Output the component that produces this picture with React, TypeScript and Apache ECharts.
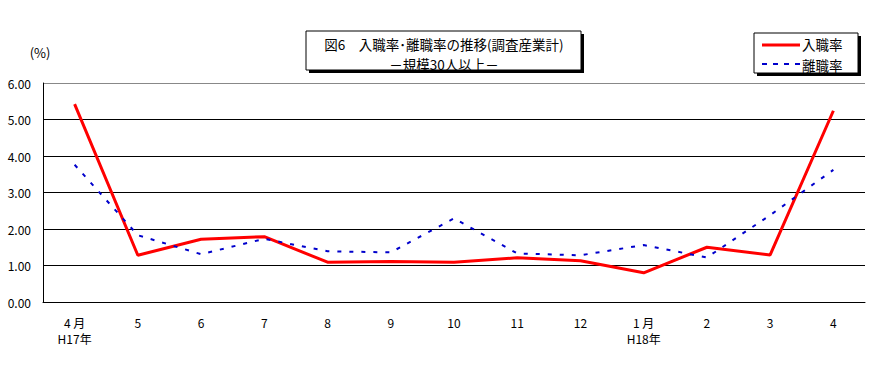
import React, { useEffect, useRef } from "react";
import * as echarts from "echarts";

const categories = ["4 月\nH17年", "5", "6", "7", "8", "9", "10", "11", "12", "1 月\nH18年", "2", "3", "4"];
const hireRate = [5.42, 1.28, 1.72, 1.79, 1.09, 1.11, 1.09, 1.21, 1.13, 0.8, 1.5, 1.29, 5.24];
const separationRate = [3.76, 1.83, 1.31, 1.73, 1.39, 1.36, 2.29, 1.33, 1.28, 1.56, 1.22, 2.38, 3.62];
const seriesNames = ["入職率", "離職率"];
const titleLine1 = "図6　入職率･離職率の推移(調査産業計)";
const titleLine2 = "－規模30人以上－";

const FONT = "'Noto Sans CJK JP', 'Noto Sans', sans-serif";
const RED = "#ff0000";
const BLUE = "#0000cc";

export default function App() {
  const ref = useRef<HTMLDivElement>(null);
  useEffect(() => {
    document.body.style.margin = "0";
    if (!ref.current) return;
    const chart = echarts.init(ref.current, null, { renderer: "svg" });
    chart.setOption({
      animation: false,
      backgroundColor: "#fff",
      textStyle: { fontFamily: FONT },
      title: {
        text: titleLine1,
        subtext: titleLine2,
        left: 444,
        top: 33.5,
        textAlign: "center",
        padding: 0,
        itemGap: 0,
        textStyle: { fontFamily: FONT, fontSize: 13.5, fontWeight: "normal", color: "#000", lineHeight: 20 },
        subtextStyle: { fontFamily: FONT, fontSize: 13.5, fontWeight: "normal", color: "#000", lineHeight: 20 },
      },
      graphic: [
        { type: "rect", shape: { x: 309, y: 34, width: 275, height: 39 }, style: { fill: "#000" }, z: -1 },
        { type: "rect", shape: { x: 306, y: 31, width: 275, height: 39 }, style: { fill: "#fff", stroke: "#000", lineWidth: 1 }, z: -1 },
        { type: "rect", shape: { x: 757, y: 36, width: 104, height: 40 }, style: { fill: "#000" }, z: -1 },
        { type: "rect", shape: { x: 754, y: 33, width: 104, height: 40 }, style: { fill: "#fff", stroke: "#000", lineWidth: 1 }, z: -1 },
        { type: "line", shape: { x1: 762, y1: 45, x2: 800, y2: 45 }, style: { stroke: RED, lineWidth: 3 }, z: 5 },
        { type: "line", shape: { x1: 762, y1: 64, x2: 800, y2: 64 }, style: { stroke: BLUE, lineWidth: 2, lineDash: [5, 6] }, z: 5 },
        {
          type: "text",
          x: 802,
          y: 44,
          z: 5,
          style: { text: seriesNames[0], fontFamily: FONT, fontSize: 13.5, lineHeight: 20, fill: "#000", textAlign: "left", textVerticalAlign: "middle" },
        },
        {
          type: "text",
          x: 802,
          y: 64.5,
          z: 5,
          style: { text: seriesNames[1], fontFamily: FONT, fontSize: 13.5, lineHeight: 20, fill: "#000", textAlign: "left", textVerticalAlign: "middle" },
        },
      ],
      grid: { left: 43, right: 19, top: 83, bottom: 72 },
      xAxis: {
        type: "category",
        data: categories,
        boundaryGap: true,
        axisLine: { lineStyle: { color: "#000", width: 1 } },
        axisTick: { inside: true, length: 4, lineStyle: { color: "#000" } },
        axisLabel: { fontFamily: FONT, fontSize: 12, color: "#000", margin: 12, lineHeight: 16, interval: 0 },
      },
      yAxis: {
        type: "value",
        min: 0,
        max: 6,
        interval: 1,
        name: "(%)",
        nameLocation: "end",
        nameGap: 24,
        nameTextStyle: { fontFamily: FONT, fontSize: 13, color: "#000", padding: [0, 6, 0, 0] },
        axisLine: { show: true, lineStyle: { color: "#000", width: 1 } },
        axisTick: { show: false },
        axisLabel: {
          fontFamily: FONT,
          fontSize: 12,
          color: "#000",
          margin: 12,
          formatter: (v: number) => v.toFixed(2),
        },
        splitLine: { lineStyle: { color: ["#000", "#000", "#000", "#000", "#000", "#000", "#888"], width: 1 } },
      },
      series: [
        {
          name: seriesNames[0],
          type: "line",
          data: hireRate,
          symbol: "none",
          lineStyle: { color: RED, width: 3 },
          itemStyle: { color: RED },
          z: 3,
        },
        {
          name: seriesNames[1],
          type: "line",
          data: separationRate,
          symbol: "none",
          lineStyle: { color: BLUE, width: 2, type: [4, 8] },
          itemStyle: { color: BLUE },
          z: 4,
        },
      ],
    });
    return () => chart.dispose();
  }, []);
  return <div ref={ref} style={{ width: 884, height: 374 }} />;
}
